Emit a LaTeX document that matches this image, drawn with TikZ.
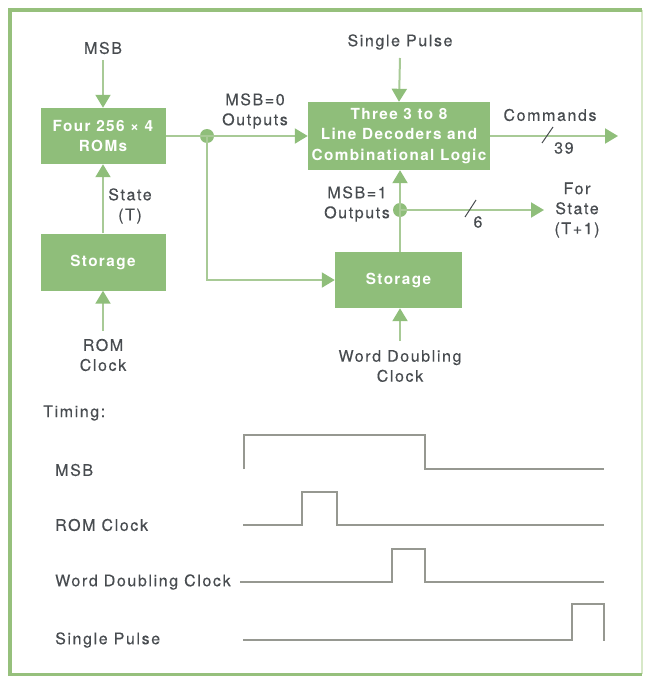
\documentclass[tikz,border=0pt]{standalone}
\usepackage{fontspec}
\setmainfont{TeX Gyre Heros}[LetterSpace=9]
\newfontfamily\lblfont{TeX Gyre Heros}[LetterSpace=10,FakeBold=0.3]
\usetikzlibrary{arrows.meta}
\definecolor{boxgreen}{RGB}{143,190,122}
\definecolor{linegreen}{RGB}{168,202,150}
\definecolor{framegreen}{RGB}{150,192,124}
\definecolor{framelight}{RGB}{215,232,200}
\definecolor{txt}{RGB}{72,76,80}
\definecolor{sig}{RGB}{150,152,145}
\tikzset{
  blk/.style={fill=boxgreen, draw=none, text=white, font=\fontsize{15.3}{20.5}\selectfont\bfseries, align=center, inner sep=0pt},
  lbl/.style={text=txt, font=\lblfont\fontsize{16}{20}\selectfont, align=center, inner sep=0pt},
  conn/.style={draw=linegreen, line width=2pt},
  arr/.style={conn, -{Triangle[width=15pt,length=13pt,fill=boxgreen,color=boxgreen]}},
  dot/.style={circle, fill=boxgreen, minimum size=14pt, inner sep=0pt},
  wave/.style={draw=sig, line width=1.2pt},
  busslash/.style={draw=txt, line width=1pt}
}
\begin{document}
\begin{tikzpicture}[x=1pt,y=-1pt]
\useasboundingbox (0,0) rectangle (646,677);
% frame
\draw[framelight, line width=2pt] (642,10) -- (642,674);
\draw[framegreen, line width=4pt] (10,674) -- (10,10) -- (642,10);
\draw[framegreen, line width=3pt] (8,674) -- (642,674);

% blocks
\node[blk, minimum width=125pt, minimum height=56pt] (rom) at (103,136) {Four 256 × 4\\ROMs};
\node[blk, minimum width=125pt, minimum height=57pt] (st1) at (103,262) {Storage};
\node[blk, minimum width=182pt, minimum height=68pt] (dec) at (399,136) {Three 3 to 8\\Line Decoders and\\Combinational Logic};
\node[blk, minimum width=127pt, minimum height=56pt] (st2) at (398.5,280) {Storage};

% labels
\node[lbl] (lmsb) at (103,48) {MSB};
\node[lbl] (lmsb0) at (255,111) {MSB=0\\Outputs};
\node[lbl] (lstate) at (130,206) {State\\(T)};
\node[lbl] (lromclk) at (103,355) {ROM\\Clock};
\node[lbl] (lsp) at (400,42) {Single Pulse};
\node[lbl] (lcmd) at (550,115) {Commands};
\node[lbl, anchor=west] (l39) at (554,148) {39};
\node[lbl] (lmsb1) at (357,204) {MSB=1\\Outputs};
\node[lbl] (l6) at (478,222) {6};
\node[lbl] (lfor) at (577,210) {For\\State\\(T+1)};
\node[lbl] (lwdc) at (400,366) {Word Doubling\\Clock};
\node[lbl, anchor=west] (ltiming) at (43,413) {Timing:};

% connector endpoints
\coordinate (msbsrc) at (103,60);
\coordinate (romclksrc) at (103,331);
\coordinate (spsrc) at (400,58);
\coordinate (wdcsrc) at (400,341);
\coordinate (cmdend) at (618,136);
\coordinate (forend) at (544,210);

\node[dot] (d1) at (207,136) {};
\node[dot] (d2) at (400,210) {};

% connectors
\draw[arr] (msbsrc) -- (rom.north);
\draw[arr] (st1.north) -- (rom.south);
\draw[arr] (romclksrc) -- (st1.south);
\draw[conn] (rom.east) -- (d1.center);
\draw[arr] (d1.center) -- (dec.west);
\draw[arr] (d1.center) |- (st2.west);
\draw[arr] (spsrc) -- (dec.north);
\draw[arr] (dec.east) -- (cmdend);
\draw[conn] (st2.north -| d2) -- (d2.center);
\draw[arr] (d2.center) -- (dec.south -| d2);
\draw[arr] (d2.center) -- (forend);
\draw[arr] (wdcsrc) -- (st2.south -| wdcsrc);

% bus slashes
\draw[busslash] (542,143) -- (553,127);
\draw[busslash] (465,217) -- (476,200);

% timing labels
\node[lbl, anchor=west] (tmsb) at (55,470) {MSB};
\node[lbl, anchor=west] (trom) at (55,525) {ROM Clock};
\node[lbl, anchor=west] (twdc) at (55,582) {Word Doubling Clock};
\node[lbl, anchor=west] (tsp) at (55,640) {Single Pulse};

% waveforms
\draw[wave] (244,469) -- (244,435) -- (425,435) -- (425,469) -- (604,469);
\draw[wave] (243,525) -- (302,525) -- (302,492) -- (337,492) -- (337,525) -- (604,525);
\draw[wave] (240,582) -- (392,582) -- (392,549) -- (425,549) -- (425,582) -- (604,582);
\draw[wave] (243,640) -- (572,640) -- (572,604) -- (604,604) -- (604,641);
\end{tikzpicture}
\end{document}
